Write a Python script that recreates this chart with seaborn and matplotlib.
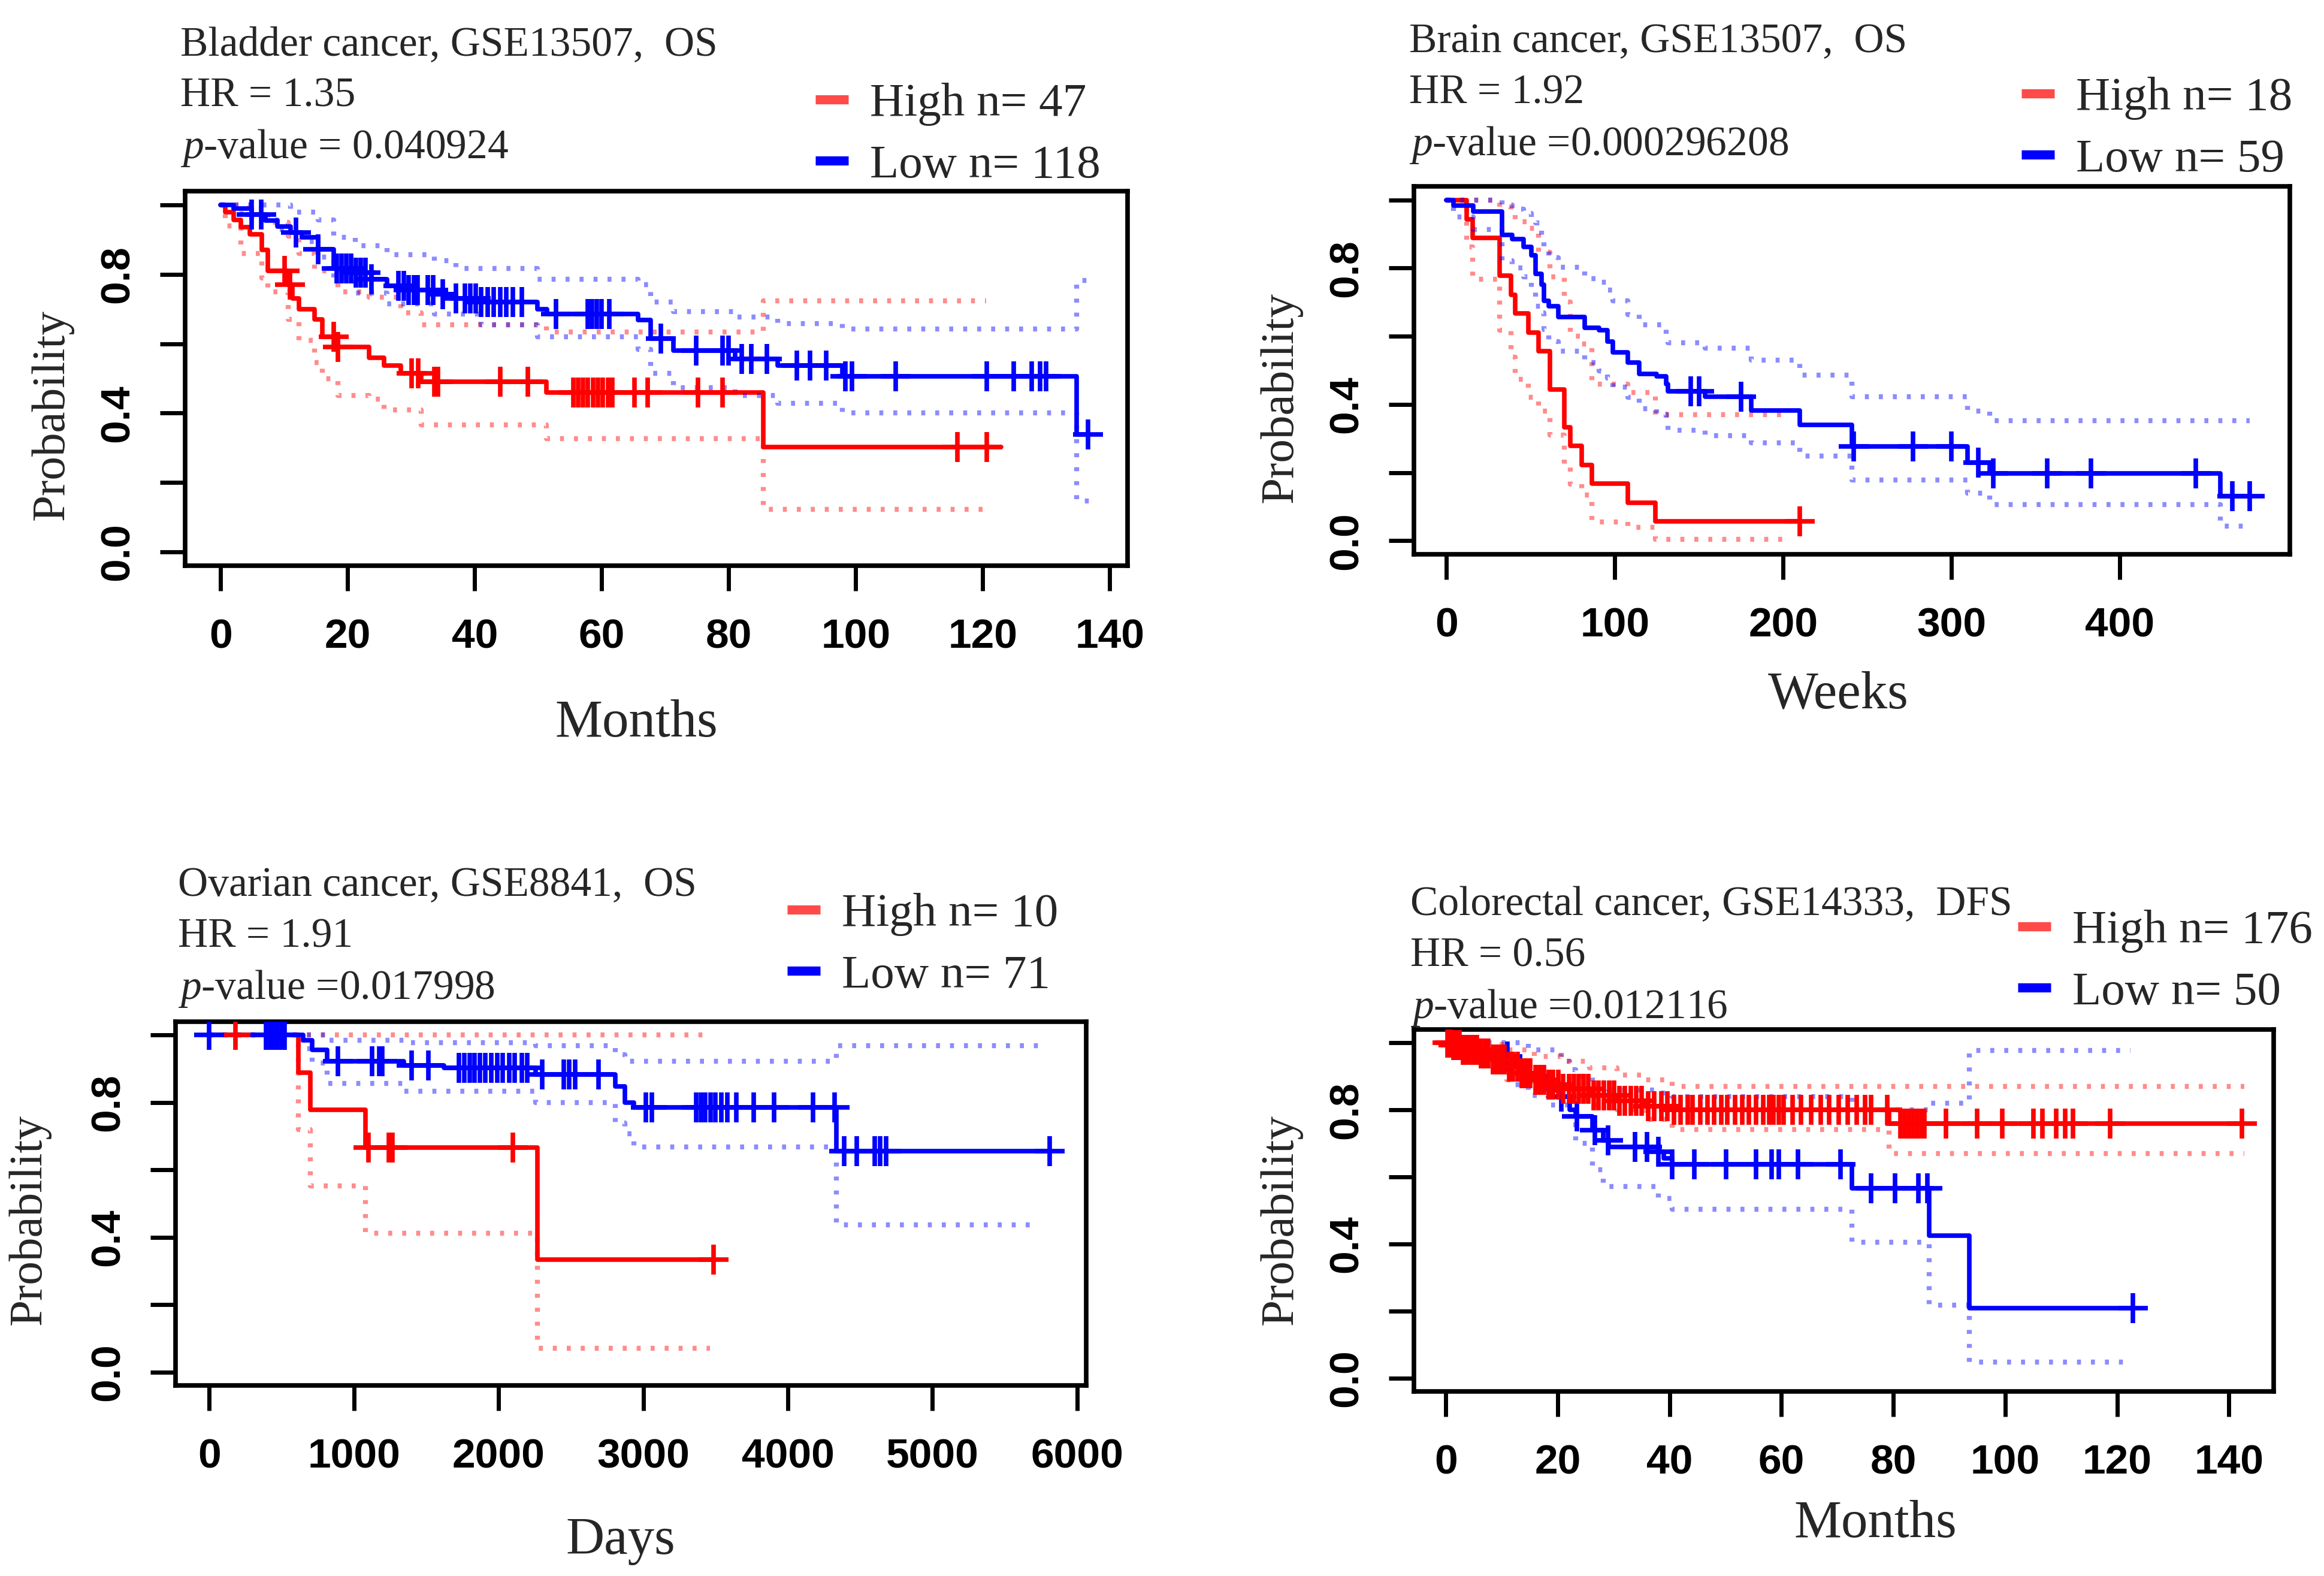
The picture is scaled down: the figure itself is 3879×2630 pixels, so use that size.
import numpy as np
import seaborn as sns
import matplotlib.pyplot as plt
from matplotlib.lines import Line2D

# ======================= data ======================= #

# --- Bladder cancer (months) ---
bl_hi_t = [0.7, 2.0, 3.2, 4.6, 6.5, 7.4, 10.6, 11.3, 12.3, 14.8, 16.0, 18.5, 23.4, 25.7, 28.4, 31.6, 51.3, 85.4]
bl_hi_s = [0.979, 0.957, 0.936, 0.915, 0.87, 0.81, 0.77, 0.73, 0.70, 0.67, 0.62, 0.59, 0.56, 0.537, 0.514, 0.49, 0.459, 0.303]
bl_hi_end = 122.9
bl_hi_cens = [10.1, 10.9, 17.8, 18.5, 30.1, 31.1, 33.6, 34.2, 44.0, 48.4, 55.5, 56.3, 57.0, 57.8, 58.6,
              59.4, 60.2, 61.0, 61.7, 65.2, 67.2, 75.2, 79.0, 116.0, 120.6]
bl_hi_up_t = [0.7, 4.6, 7.4, 10.6, 12.3, 14.8, 18.5, 23.4, 28.4, 31.6, 51.3, 85.4]
bl_hi_up_v = [1.0, 0.99, 0.95, 0.91, 0.86, 0.81, 0.75, 0.735, 0.69, 0.655, 0.634, 0.724]
bl_hi_lo_t = [0.7, 3.2, 6.5, 7.4, 10.6, 12.3, 14.8, 16.0, 18.5, 23.4, 25.7, 31.6, 51.3, 85.4]
bl_hi_lo_v = [0.94, 0.86, 0.79, 0.75, 0.67, 0.61, 0.545, 0.50, 0.45, 0.44, 0.41, 0.366, 0.327, 0.123]
bl_hi_ci_end = 120.5

bl_lo_t = [2.0, 4.9, 7.0, 8.9, 11.0, 12.8, 15.3, 17.8, 21.2, 23.7, 26.2, 29.1, 33.6, 37.0, 41.0, 49.9,
           51.4, 65.7, 67.7, 71.3, 81.0, 87.7, 97.9, 134.8]
bl_lo_s = [0.99, 0.973, 0.955, 0.938, 0.92, 0.907, 0.872, 0.817, 0.805, 0.786, 0.767, 0.755, 0.743, 0.731,
           0.72, 0.70, 0.685, 0.669, 0.615, 0.58, 0.556, 0.537, 0.506, 0.338]
bl_lo_end = 136.6
bl_lo_cens = [4.9, 6.4, 11.9, 15.3, 18.3, 19.0, 19.8, 20.5, 21.3, 22.0, 22.8, 23.7, 28.0, 28.8, 29.6, 30.4,
              31.0, 32.6, 33.5, 35.0, 37.0, 38.5, 39.3, 40.2, 41.0, 42.0, 43.0, 44.0, 45.0, 46.0, 47.4,
              52.8, 57.8, 58.5, 59.2, 60.0, 61.2, 69.3, 74.9, 79.0, 80.0, 82.0, 83.6, 86.0, 90.7, 92.8,
              95.3, 98.4, 99.4, 106.3, 120.6, 124.9, 127.7, 129.0, 130.0, 136.6]
bl_lo_up_t = [2.0, 11.0, 15.3, 17.8, 21.2, 26.2, 33.6, 37.0, 49.9, 65.7, 67.7, 71.3, 81.0, 87.7, 97.9, 134.8]
bl_lo_up_v = [1.0, 0.98, 0.957, 0.907, 0.883, 0.856, 0.84, 0.817, 0.786, 0.77, 0.72, 0.693, 0.677, 0.658, 0.642, 0.783]
bl_lo_lo_t = [2.0, 4.9, 8.9, 12.8, 15.3, 17.8, 21.2, 26.2, 33.6, 41.0, 49.9, 65.7, 67.7, 71.3, 81.0, 87.7, 97.9, 134.8]
bl_lo_lo_v = [0.975, 0.957, 0.93, 0.895, 0.85, 0.79, 0.747, 0.716, 0.685, 0.654, 0.62, 0.584, 0.514, 0.474,
              0.45, 0.428, 0.40, 0.147]
bl_lo_ci_end = 137.4

# --- Brain cancer (weeks) ---
br_hi_t = [12, 15.4, 31.6, 38.5, 41, 48.7, 54.7, 61.5, 70, 73.5, 80.3, 86.3, 107.7, 124]
br_hi_s = [0.944, 0.889, 0.778, 0.722, 0.667, 0.611, 0.556, 0.444, 0.333, 0.278, 0.222, 0.167, 0.111, 0.056]
br_hi_end = 210
br_hi_cens = [210]
br_hi_up_t = br_hi_t
br_hi_up_v = [1.0, 1.0, 0.98, 0.96, 0.937, 0.917, 0.846, 0.775, 0.70, 0.60, 0.577, 0.46, 0.435, 0.37]
br_hi_lo_t = br_hi_t
br_hi_lo_v = [0.862, 0.767, 0.617, 0.538, 0.474, 0.42, 0.38, 0.31, 0.22, 0.166, 0.134, 0.055, 0.04, 0.004]
br_hi_ci_end = 203

br_lo_t = [4.3, 16, 33, 39, 46, 50.4, 53, 56.4, 58, 60.7, 66.6, 82, 90.6, 95.7, 99, 107.7, 114.5, 124.8,
           130.7, 131.6, 153.8, 181, 210, 241, 309.6, 322.8, 459.6]
br_lo_s = [0.983, 0.966, 0.898, 0.886, 0.862, 0.838, 0.783, 0.751, 0.704, 0.688, 0.656, 0.625, 0.617, 0.585,
           0.553, 0.522, 0.49, 0.482, 0.459, 0.439, 0.423, 0.383, 0.34, 0.276, 0.229, 0.197, 0.13]
br_lo_end = 477
br_lo_cens = [145, 150, 175, 242, 277, 300, 316, 325, 357, 383, 445, 467, 477]
br_lo_up_t = br_lo_t
br_lo_up_v = [1.0, 1.0, 0.985, 0.973, 0.96, 0.95, 0.933, 0.877, 0.85, 0.83, 0.802, 0.77, 0.758, 0.735, 0.704,
              0.664, 0.633, 0.633, 0.597, 0.581, 0.565, 0.53, 0.486, 0.423, 0.38, 0.352, 0.352]
br_lo_lo_t = br_lo_t
br_lo_lo_v = [0.95, 0.913, 0.822, 0.80, 0.775, 0.74, 0.688, 0.668, 0.62, 0.585, 0.557, 0.522, 0.498, 0.478,
              0.451, 0.42, 0.387, 0.372, 0.356, 0.324, 0.308, 0.288, 0.249, 0.178, 0.14, 0.106, 0.043]
br_lo_ci_end = 477

# --- Ovarian cancer (days) ---
ov_hi_t = [615, 700, 1081, 2268]
ov_hi_s = [0.889, 0.778, 0.667, 0.333]
ov_hi_end = 3485
ov_hi_cens = [180, 1100, 1240, 1265, 2099, 3485]
ov_hi_up_t = ov_hi_t
ov_hi_up_v = [1.0, 1.0, 1.0, 1.0]
ov_hi_lo_t = ov_hi_t
ov_hi_lo_v = [0.72, 0.553, 0.412, 0.07]
ov_hi_ci_end = 3460

ov_lo_t = [650, 710, 816, 1346, 1622, 2258, 2809, 2873, 2936, 4336]
ov_lo_s = [0.985, 0.957, 0.922, 0.91, 0.903, 0.883, 0.848, 0.80, 0.786, 0.655]
ov_lo_end = 5812
ov_lo_cens = [0, 392, 420, 445, 470, 500, 519, 890, 1124, 1177, 1198, 1400, 1516, 1728, 1765, 1800, 1835,
              1870, 1910, 1950, 1990, 2030, 2075, 2110, 2160, 2200, 2300, 2450, 2490, 2530, 2690, 3020,
              3060, 3366, 3400, 3430, 3465, 3500, 3540, 3580, 3646, 3765, 3905, 4175, 4325, 4390, 4476,
              4600, 4640, 4680, 5812]
ov_lo_up_t = [650, 816, 1346, 2258, 2809, 2873, 4336]
ov_lo_up_v = [1.0, 0.985, 0.977, 0.969, 0.942, 0.922, 0.969]
ov_lo_lo_t = [650, 710, 816, 1346, 2258, 2809, 2873, 2936, 4336]
ov_lo_lo_v = [0.96, 0.918, 0.856, 0.834, 0.80, 0.739, 0.708, 0.669, 0.436]
ov_lo_ci_end = 5740

# --- Colorectal cancer (months) ---
co_hi_t = [1, 3, 5.9, 8, 10.9, 13, 15.8, 18, 20.7, 25.7, 30.6, 35.6, 40.5, 79.2]
co_hi_s = [0.994, 0.98, 0.969, 0.95, 0.93, 0.91, 0.89, 0.875, 0.863, 0.843, 0.827, 0.811, 0.80, 0.76]
co_hi_end = 142.3
co_hi_cens = [0.3, 0.8, 1.4, 1.9, 2.4, 3.1, 3.6, 4.2, 4.9, 5.5, 6.3, 7.0, 7.6, 8.4, 9.1, 9.8, 10.5, 11.3,
              12.0, 12.8, 13.6, 14.3, 15.1, 16.0, 16.8, 17.5, 18.4, 19.2, 20.1, 21.0, 22.0, 22.9, 23.8,
              24.6, 25.5, 26.4, 27.3, 28.3, 29.2, 30.1, 31.0, 32.0, 33.1, 34.0, 35.0, 36.2, 37.3, 38.5,
              39.6, 40.8, 42.0, 43.3, 44.1, 45.5, 46.8, 48.0, 49.2, 50.3, 51.7, 53.0, 54.2, 55.5, 56.7,
              57.8, 58.6, 59.5, 60.4, 62.0, 63.5, 65.3, 67.0, 68.5, 70.2, 71.8, 73.5, 74.9, 76.0, 78.9,
              81.3, 82.0, 82.8, 83.5, 84.3, 85.0, 85.6, 89.4, 95.0, 99.5, 105.1, 106.7, 109.1, 110.7,
              112.1, 118.8, 142.3]
co_hi_up_t = [1, 5.9, 10.9, 15.8, 20.7, 25.7, 30.6, 35.6, 40.5, 79.2]
co_hi_up_v = [1.0, 0.995, 0.98, 0.96, 0.945, 0.925, 0.905, 0.89, 0.87, 0.87]
co_hi_lo_t = co_hi_up_t
co_hi_lo_v = [0.99, 0.94, 0.89, 0.855, 0.83, 0.815, 0.80, 0.772, 0.741, 0.67]
co_hi_ci_end = 142.8

co_lo_t = [6, 8.4, 11.4, 14.8, 18.3, 20.7, 22.2, 23.2, 26.2, 28.1, 29.1, 38, 39, 40.5, 72.6, 86.4, 93.6]
co_lo_s = [0.98, 0.96, 0.94, 0.90, 0.86, 0.84, 0.80, 0.78, 0.74, 0.71, 0.69, 0.675, 0.655, 0.638, 0.567, 0.425, 0.209]
co_lo_end = 122.8
co_lo_cens = [11, 20.7, 23.4, 26.7, 29.0, 33.8, 36.0, 38.0, 40.5, 44.4, 50.1, 55.5, 58.2, 59.5, 63.0, 70.6,
              76.0, 80.3, 84.5, 86.1, 122.8]
co_lo_up_t = [6, 14.8, 20.7, 22.2, 23.2, 26.2, 29.1, 38, 40.5, 72.6, 86.4, 93.6]
co_lo_up_v = [1.0, 0.98, 0.945, 0.92, 0.90, 0.88, 0.86, 0.85, 0.84, 0.80, 0.82, 0.977]
co_lo_lo_t = [6, 8.4, 11.4, 14.8, 18.3, 22.2, 23.2, 26.2, 28.1, 29.1, 38, 40.5, 72.6, 86.4, 93.6]
co_lo_lo_v = [0.96, 0.914, 0.875, 0.843, 0.815, 0.756, 0.70, 0.622, 0.575, 0.571, 0.536, 0.504, 0.406, 0.217, 0.047]
co_lo_ci_end = 122.4

# --- texts ---
titles = ['Bladder cancer, GSE13507,  OS', 'Brain cancer, GSE13507,  OS',
          'Ovarian cancer, GSE8841,  OS', 'Colorectal cancer, GSE14333,  DFS']
hr_texts = ['HR = 1.35', 'HR = 1.92', 'HR = 1.91', 'HR = 0.56']
p_texts = [' = 0.040924', ' =0.000296208', ' =0.017998', ' =0.012116']
hi_labels = ['High n= 47', 'High n= 18', 'High n= 10', 'High n= 176']
lo_labels = ['Low n= 118', 'Low n= 59', 'Low n= 71', 'Low n= 50']
x_labels = ['Months', 'Weeks', 'Days', 'Months']
x_ticks = [[0, 20, 40, 60, 80, 100, 120, 140], [0, 100, 200, 300, 400],
           [0, 1000, 2000, 3000, 4000, 5000, 6000], [0, 20, 40, 60, 80, 100, 120, 140]]
x_lims = [(-5.6, 142.8), (-19.3, 501), (-233, 6063), (-5.7, 148)]
y_ticks = [0.0, 0.2, 0.4, 0.6, 0.8, 1.0]
y_ticklabels = ['0.0', '', '0.4', '', '0.8', '']

# ============================== layout (pixels) ============================== #
W, H = 3879, 2630
axes_px = [(309, 319, 1882, 944), (2360, 311, 3822, 925), (293, 1705, 1813, 2312), (2360, 1718, 3795, 2322)]
title_px = [(301, 75), (2352, 70), (297, 1478), (2354, 1510)]
line_gap = 86
legend_px = [(1361, 138), (3374, 128), (1314, 1490), (3368, 1518)]
xlabel_px = [(1062, 1208), (3068, 1160), (1036, 2572), (3130, 2543)]
ylabel_px = [(87, 692), (2138, 663), (49, 2035), (2138, 2035)]

RED = '#ff0000'
BLUE = '#0000ff'
SERIF = ['Liberation Serif', 'DejaVu Serif']
TICKFONT = ['Liberation Sans', 'DejaVu Sans']

sns.set_theme(style='white')
plt.rcParams['font.family'] = SERIF
plt.rcParams['mathtext.fontset'] = 'custom'
plt.rcParams['mathtext.rm'] = 'Liberation Serif'
plt.rcParams['mathtext.it'] = 'Liberation Serif:italic'


def fx(x):
    return x / W


def fy(y):
    return 1 - y / H


def step_xy(times, vals, end):
    return [0.0] + list(times) + [end], [1.0] + list(vals) + [vals[-1]]


def surv_at(times, vals, t):
    i = np.searchsorted(times, t, side='right')
    return 1.0 if i == 0 else vals[i - 1]


def km(ax, t, s, end, cens, up_t, up_v, lo_t, lo_v, ci_end, color):
    for ct, cv in ((up_t, up_v), (lo_t, lo_v)):
        x, y = step_xy(ct, cv, ci_end)
        sns.lineplot(x=x, y=y, ax=ax, color=color, linewidth=6, alpha=0.45, linestyle=(0, (0.8, 2.0)),
                     drawstyle='steps-post', estimator=None, sort=False)
    x, y = step_xy(t, s, end)
    sns.lineplot(x=x, y=y, ax=ax, color=color, linewidth=5.5, drawstyle='steps-post',
                 estimator=None, sort=False)
    ax.lines[-1].set_linewidth(5.5)
    cy = [surv_at(t, s, c) for c in cens]
    sns.scatterplot(x=cens, y=cy, ax=ax, marker='+', color=color, zorder=3)
    pts = ax.collections[-1]
    pts.set_sizes([1300])
    pts.set_linewidths(5.5)
    pts.set_edgecolor(color)


fig = plt.figure(figsize=(W / 100, H / 100), dpi=100)

curves = [
    [(bl_hi_t, bl_hi_s, bl_hi_end, bl_hi_cens, bl_hi_up_t, bl_hi_up_v, bl_hi_lo_t, bl_hi_lo_v, bl_hi_ci_end, RED),
     (bl_lo_t, bl_lo_s, bl_lo_end, bl_lo_cens, bl_lo_up_t, bl_lo_up_v, bl_lo_lo_t, bl_lo_lo_v, bl_lo_ci_end, BLUE)],
    [(br_hi_t, br_hi_s, br_hi_end, br_hi_cens, br_hi_up_t, br_hi_up_v, br_hi_lo_t, br_hi_lo_v, br_hi_ci_end, RED),
     (br_lo_t, br_lo_s, br_lo_end, br_lo_cens, br_lo_up_t, br_lo_up_v, br_lo_lo_t, br_lo_lo_v, br_lo_ci_end, BLUE)],
    [(ov_hi_t, ov_hi_s, ov_hi_end, ov_hi_cens, ov_hi_up_t, ov_hi_up_v, ov_hi_lo_t, ov_hi_lo_v, ov_hi_ci_end, RED),
     (ov_lo_t, ov_lo_s, ov_lo_end, ov_lo_cens, ov_lo_up_t, ov_lo_up_v, ov_lo_lo_t, ov_lo_lo_v, ov_lo_ci_end, BLUE)],
    [(co_lo_t, co_lo_s, co_lo_end, co_lo_cens, co_lo_up_t, co_lo_up_v, co_lo_lo_t, co_lo_lo_v, co_lo_ci_end, BLUE),
     (co_hi_t, co_hi_s, co_hi_end, co_hi_cens, co_hi_up_t, co_hi_up_v, co_hi_lo_t, co_hi_lo_v, co_hi_ci_end, RED)],
]

for i in range(4):
    x0, y0, x1, y1 = axes_px[i]
    ax = fig.add_axes([fx(x0), fy(y1), (x1 - x0) / W, (y1 - y0) / H])
    for c in curves[i]:
        km(ax, *c)

    ax.set_xlim(x_lims[i])
    ax.set_ylim(-0.04, 1.04)
    ax.set_xlabel('')
    ax.set_ylabel('')
    ax.set_xticks(x_ticks[i])
    ax.set_xticklabels([str(v) for v in x_ticks[i]])
    ax.set_yticks(y_ticks)
    ax.set_yticklabels(y_ticklabels)
    for sp in ax.spines.values():
        sp.set_visible(True)
        sp.set_color('black')
        sp.set_linewidth(5.5)
    ax.tick_params(axis='both', direction='out', length=30, width=5, color='black',
                   bottom=True, left=True, labelsize=50, labelcolor='black')
    ax.tick_params(axis='x', pad=33)
    ax.tick_params(axis='y', pad=28)
    for lbl in ax.get_xticklabels() + ax.get_yticklabels():
        lbl.set_fontfamily(TICKFONT)
        lbl.set_fontweight('bold')
    for lbl in ax.get_yticklabels():
        lbl.set_rotation(90)
        lbl.set_va('center')

    # header text
    tx, ty = title_px[i]
    fig.text(fx(tx), fy(ty), titles[i], fontsize=50, va='center', ha='left')
    fig.text(fx(tx), fy(ty + line_gap), hr_texts[i], fontsize=50, va='center', ha='left')
    fig.text(fx(tx), fy(ty + 2 * line_gap), r'$\mathit{p}$-value' + p_texts[i], fontsize=50, va='center', ha='left')

    # legend
    handles = [Line2D([], [], color='#ff4a4a', lw=11, solid_capstyle='butt'),
               Line2D([], [], color=BLUE, lw=11, solid_capstyle='butt')]
    lx, ly = legend_px[i]
    ax.legend(handles, [hi_labels[i], lo_labels[i]], loc='upper left',
              bbox_to_anchor=(fx(lx), fy(ly)), bbox_transform=fig.transFigure,
              frameon=False, fontsize=57, handlelength=0.7, handletextpad=0.45,
              labelspacing=0.38, borderpad=0, borderaxespad=0)

    # axis titles
    xlx, xly = xlabel_px[i]
    fig.text(fx(xlx), fy(xly), x_labels[i], fontsize=64, ha='center', va='center')
    ylx, yly = ylabel_px[i]
    fig.text(fx(ylx), fy(yly), 'Probability', fontsize=57, ha='center', va='center', rotation=90)

fig.savefig('out.png', dpi=100, facecolor='white')
